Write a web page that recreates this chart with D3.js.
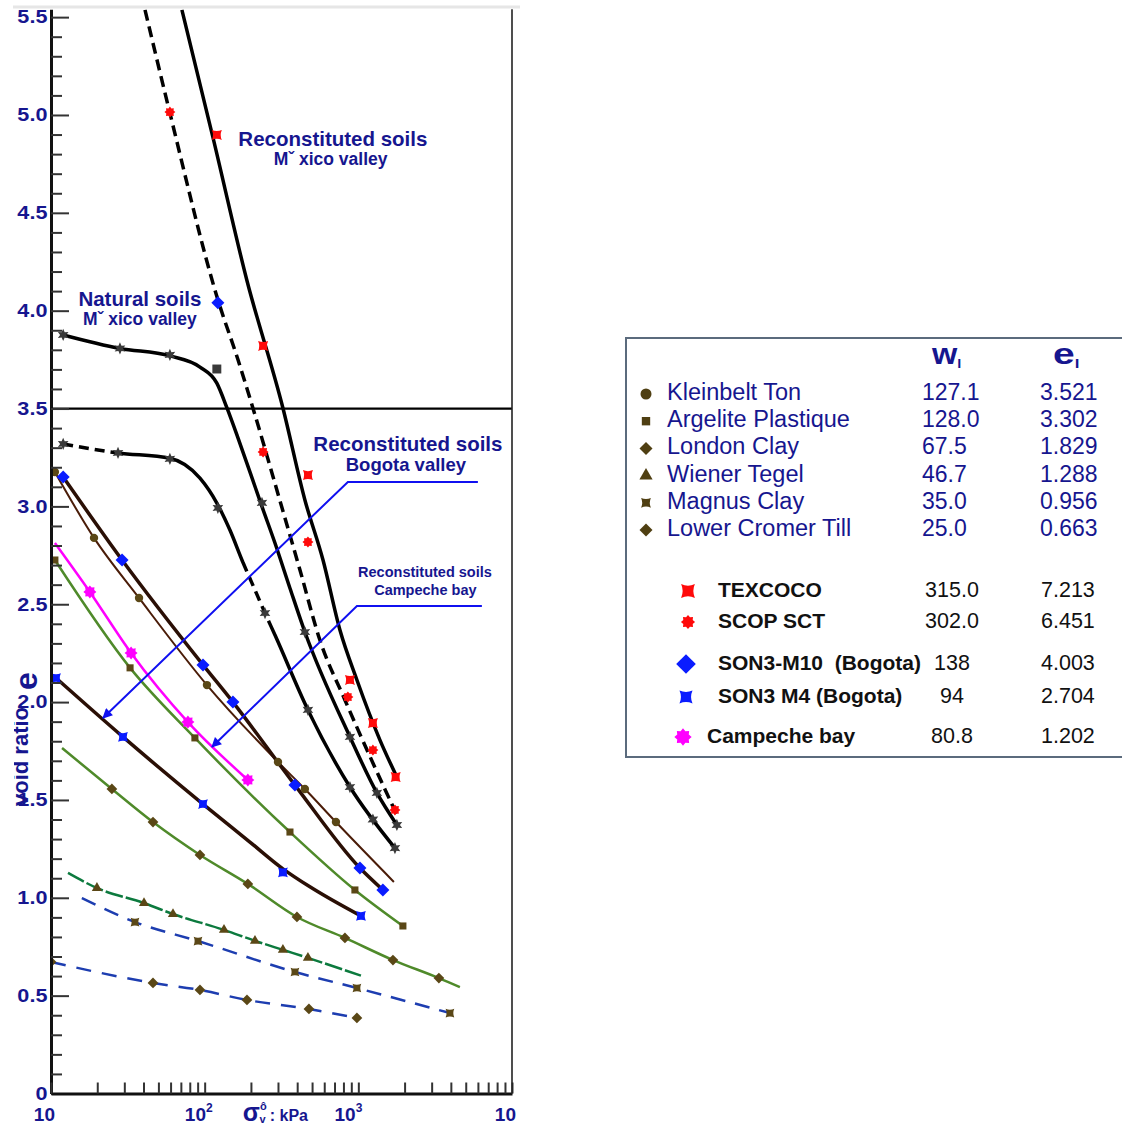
<!DOCTYPE html>
<html>
<head>
<meta charset="utf-8">
<title>Void ratio vs vertical stress</title>
<script src="https://cdn.jsdelivr.net/npm/d3@7/dist/d3.min.js"></script>
<style>
  body { margin: 0; background: #fff; }
  svg { display: block; font-family: "Liberation Sans", Arial, Helvetica, sans-serif; }
</style>
</head>
<body>
<div id="chart"></div>
<script>
// ---- data: [stress (kPa), void ratio e] ----

// Mexico valley, reconstituted
const texcocoPts = [[120, 4.898], [240, 3.820], [470, 3.160], [882, 2.113], [1244, 1.893], [1750, 1.617]];
const texcocoCurve = [[71.1, 5.537], [113, 4.888], [188, 4.157], [323, 3.503], [449, 3.033], [589, 2.726],
  [759, 2.368], [979, 2.113], [1383, 1.806], [1782, 1.617]];
const scopPts = [[59.4, 5.015], [240, 3.278], [470, 2.818], [855, 2.026], [1244, 1.755], [1731, 1.449]];
const scopCurve = [[40.9, 5.537], [59.4, 5.010], [122, 4.055], [165, 3.748], [206, 3.503], [308, 3.033],
  [417, 2.675], [562, 2.317], [818, 2.011], [1244, 1.689], [1782, 1.423]];

// Mexico valley, natural
const natUpperPts = [[12.0, 3.876], [28.1, 3.807], [59.4, 3.774], [236, 3.018], [449, 2.358],
  [882, 1.822], [1321, 1.536], [1782, 1.372]];
const natUpperSquare = [[120, 3.702]];
const natUpperCurve = [[12.0, 3.876], [28.1, 3.807], [59.4, 3.769], [93.2, 3.712], [120, 3.630], [139.7, 3.503],
  [164.7, 3.350], [197, 3.176], [236, 2.999], [286.7, 2.813], [359, 2.582], [449, 2.358], [882, 1.822],
  [1321, 1.536], [1782, 1.372]];
const natLowerPts = [[12.0, 3.319], [27.3, 3.273], [59.4, 3.243], [121.9, 2.992], [247, 2.455], [470, 1.960],
  [882, 1.566], [1244, 1.400], [1731, 1.254]];
const natLowerCurve = [[12.0, 3.319], [27.3, 3.273], [59.4, 3.246], [93.2, 3.144], [120, 3.017], [146, 2.879],
  [177, 2.716], [212.5, 2.573], [247, 2.455], [286.7, 2.343], [470, 1.960], [882, 1.566], [1731, 1.254]];
const natLowerBreaks = [27.3, 177, 286.7];   // dashed / solid / dashed / solid

// Bogota valley
const son3m10Pts = [[121.9, 4.04], [12.0, 3.150], [29.0, 2.726], [97.5, 2.190], [152.7, 2.000], [386.8, 1.576],
  [1024, 1.152], [1445, 1.040]];
const son3m10Curve = [[12.0, 3.150], [29.0, 2.726], [97.5, 2.190], [152.7, 2.000], [386.8, 1.576], [1024, 1.152], [1445, 1.040]];
const son3m4Pts = [[10.78, 2.123], [29.4, 1.822], [97.5, 1.479], [323, 1.130], [1040, 0.907]];
const son3m4Curve = [[10.78, 2.123], [29.4, 1.822], [97.5, 1.479], [197, 1.285], [323, 1.148], [484, 1.056], [1040, 0.907]];

// Campeche bay
const campechePts = [[17.9, 2.563], [33.2, 2.251], [77.8, 1.898], [191, 1.602]];
const campecheCurve = [[10.6, 2.813], [17.9, 2.563], [33.2, 2.251], [77.8, 1.898], [191, 1.602]];

// reference clays
const kleinbeltPts = [[10.6, 3.176], [19.05, 2.839], [37.4, 2.532], [103.5, 2.087], [300, 1.694], [449, 1.556], [715, 1.387]];
const kleinbeltCurve = [[10.6, 3.176], [19.05, 2.839], [37.4, 2.532], [103.5, 2.087], [300, 1.694], [449, 1.556], [715, 1.387], [1704, 1.081]];
const argelitePts = [[10.6, 2.726], [32.7, 2.175], [86.4, 1.817], [359, 1.336], [950, 1.040], [1950, 0.856]];
const londonPts = [[24.9, 1.556], [46.1, 1.387], [93.2, 1.219], [191, 1.071], [398.6, 0.902], [818, 0.795], [1680, 0.682], [3344, 0.590]];
const londonCurve = [[11.8, 1.765], [24.9, 1.556], [46.1, 1.387], [93.2, 1.219], [191, 1.071], [398.6, 0.902],
  [818, 0.795], [1680, 0.682], [3344, 0.590], [4581, 0.544]];
const wienerPts = [[19.9, 1.050], [40.3, 0.973], [62.2, 0.917], [133.6, 0.836], [212.5, 0.780], [323, 0.734], [470, 0.693]];
const wienerCurve = [[12.9, 1.127], [19.9, 1.050], [40.3, 0.973], [62.2, 0.917], [133.6, 0.836], [212.5, 0.780],
  [323, 0.734], [470, 0.693], [1040, 0.602]];
const magnusPts = [[35.2, 0.876], [90.5, 0.779], [386.8, 0.621], [979, 0.539], [3946, 0.411]];
const magnusCurve = [[15.9, 0.999], [35.2, 0.876], [90.5, 0.779], [386.8, 0.621], [979, 0.539], [3946, 0.411]];
const cromerPts = [[10, 0.672], [46.1, 0.565], [93.2, 0.529], [188.5, 0.478], [477, 0.432], [979, 0.386]];

// legend table
const refNames = ["Kleinbelt Ton", "Argelite Plastique", "London Clay", "Wiener Tegel", "Magnus Clay", "Lower Cromer Till"];
const refWl = ["127.1", "128.0", "67.5", "46.7", "35.0", "25.0"];
const refEl = ["3.521", "3.302", "1.829", "1.288", "0.956", "0.663"];
const testNames = ["TEXCOCO", "SCOP SCT", "SON3-M10  (Bogota)", "SON3 M4 (Bogota)", "Campeche bay"];
const testWl = ["315.0", "302.0", "138", "94", "80.8"];
const testEl = ["7.213", "6.451", "4.003", "2.704", "1.202"];

// axis ticks
const xLabelTicks = [10, 100, 1000, 10000];
const xLabelExp = ["", "2", "3", ""];
const yMajor = d3.range(0, 56, 5).map(i => i / 10);
const yMinor = d3.range(1, 56).filter(i => i % 5).map(i => i / 10);

// ---------------------------------------------------------------
const svgWidth = 1122, svgHeight = 1124;
const navy = "#16168f";
const brown = "#5a4716";

const svg = d3.select("#chart").append("svg")
  .attr("width", svgWidth)
  .attr("height", svgHeight);

const x = d3.scaleLog().domain([10, 10000]).range([51, 512]);
const y = d3.scaleLinear().domain([0, 5.54]).range([1093.5, 9.3]);

// marker shapes
const pinchSquare = {
  draw(ctx, size) {
    const r = Math.sqrt(size) / 2, k = r * 0.55;
    ctx.moveTo(-r, -r);
    ctx.quadraticCurveTo(0, -k, r, -r);
    ctx.quadraticCurveTo(k, 0, r, r);
    ctx.quadraticCurveTo(0, k, -r, r);
    ctx.quadraticCurveTo(-k, 0, -r, -r);
    ctx.closePath();
  }
};
const diamond = {
  draw(ctx, size) {
    const r = Math.sqrt(size) * 0.62;
    ctx.moveTo(0, -r);
    ctx.lineTo(r, 0);
    ctx.lineTo(0, r);
    ctx.lineTo(-r, 0);
    ctx.closePath();
  }
};
function starSym(n, inner) {
  return {
    draw(ctx, size) {
      const r = Math.sqrt(size) / 2;
      for (let i = 0; i < 2 * n; i++) {
        const a = Math.PI * i / n - Math.PI / 2;
        const rr = i % 2 ? r * inner : r;
        if (i === 0) ctx.moveTo(rr * Math.cos(a), rr * Math.sin(a));
        else ctx.lineTo(rr * Math.cos(a), rr * Math.sin(a));
      }
      ctx.closePath();
    }
  };
}
const cog = starSym(8, 0.72);
const asterisk = starSym(6, 0.5);

// top page rule
svg.append("line").attr("x1", 13).attr("x2", 520).attr("y1", 7).attr("y2", 7)
  .attr("stroke", "#e6e6e6").attr("stroke-width", 3);

svg.append("clipPath").attr("id", "plotclip")
  .append("rect").attr("x", 51).attr("y", y(5.54)).attr("width", 461).attr("height", y(0) - y(5.54));

const plot = svg.append("g").attr("clip-path", "url(#plotclip)");

// reference line e = 3.5
plot.append("line")
  .attr("x1", x(10)).attr("x2", x(10000)).attr("y1", y(3.5)).attr("y2", y(3.5))
  .attr("stroke", "#000").attr("stroke-width", 2.2);

const line = d3.line().x(d => x(d[0])).y(d => y(d[1])).curve(d3.curveMonotoneX);

function drawLine(pts, color, width, dash) {
  return plot.append("path")
    .datum(pts)
    .attr("d", line)
    .attr("fill", "none")
    .attr("stroke", color)
    .attr("stroke-width", width)
    .attr("stroke-dasharray", dash || null)
    .attr("stroke-linecap", "butt");
}

// one smooth path, dashed and solid in turn between the break stresses
function drawMixed(pts, breaks, color, width, dash, gap) {
  const p = drawLine(pts, color, width);
  const node = p.node(), L = node.getTotalLength();
  const at = px => {
    let lo = 0, hi = L;
    for (let i = 0; i < 40; i++) {
      const m = (lo + hi) / 2;
      if (node.getPointAtLength(m).x < px) lo = m; else hi = m;
    }
    return lo;
  };
  const cuts = [0].concat(breaks.map(b => at(x(b))), [L]);
  const arr = [];
  for (let s = 0; s < cuts.length - 1; s++) {
    const len = cuts[s + 1] - cuts[s];
    if (s % 2 === 0) {
      const n = Math.floor(len / (dash + gap));
      for (let k = 0; k < n; k++) arr.push(dash, gap);
      arr.push(len - n * (dash + gap), 0);
    } else {
      arr.push(len, 0);
    }
  }
  p.attr("stroke-dasharray", arr.join(","));
}

function drawMarkers(pts, type, size, color) {
  plot.append("g").selectAll("path")
    .data(pts)
    .enter()
    .append("path")
    .attr("transform", d => `translate(${x(d[0])},${y(d[1])})`)
    .attr("d", d3.symbol().type(type).size(size))
    .attr("fill", color);
}

// reference clays
drawLine(cromerPts, "#1d3db0", 2.5, "15,11");
drawLine(magnusCurve, "#1d3db0", 2.5, "15,10");
drawLine(wienerCurve, "#0c7a3e", 2.5, "18,3");
drawLine(londonCurve, "#4f8a2a", 2.5);
drawLine(argelitePts, "#4f8a2a", 2.5);
drawLine(kleinbeltCurve, "#4a1c08", 2);

// Bogota / Campeche
drawLine(son3m4Curve, "#2a0f05", 3.5);
drawLine(son3m10Curve, "#2a0f05", 3.5);
drawLine(campecheCurve, "#ff00ff", 2.5);

// Mexico valley
drawLine(texcocoCurve, "#000", 3.5);
drawLine(scopCurve, "#000", 3.5, "11,6");
drawLine(natUpperCurve, "#000", 3.5);
drawMixed(natLowerCurve, natLowerBreaks, "#000", 3.5, 10, 6);

drawMarkers(cromerPts, diamond, 75, brown);
drawMarkers(magnusPts, pinchSquare, 75, brown);
drawMarkers(wienerPts, d3.symbolTriangle, 45, brown);
drawMarkers(londonPts, diamond, 75, brown);
drawMarkers(argelitePts, d3.symbolSquare, 50, brown);
drawMarkers(kleinbeltPts, d3.symbolCircle, 55, brown);
drawMarkers(son3m4Pts, pinchSquare, 95, "#0a1cff");
drawMarkers(son3m10Pts, diamond, 110, "#0a1cff");
drawMarkers(campechePts, cog, 170, "#ff00ff");
drawMarkers(natUpperPts, asterisk, 150, "#3a3a3a");
drawMarkers(natUpperSquare, d3.symbolSquare, 80, "#3a3a3a");
drawMarkers(natLowerPts, asterisk, 150, "#3a3a3a");
drawMarkers(texcocoPts, pinchSquare, 100, "#ff0a0a");
drawMarkers(scopPts, cog, 120, "#ff0a0a");

// ---- annotations ----
const defs = svg.append("defs");
defs.append("marker")
  .attr("id", "arrow")
  .attr("viewBox", "0 0 10 10")
  .attr("refX", 9).attr("refY", 5)
  .attr("markerWidth", 6).attr("markerHeight", 5)
  .attr("markerUnits", "strokeWidth")
  .attr("orient", "auto")
  .append("path").attr("d", "M0,0 L10,5 L0,10 Z").attr("fill", "#1010f0");

const arrows = [
  [[5998, 3.125], [855, 3.125], [21.8, 1.919]],
  [[6368, 2.491], [979, 2.491], [111.6, 1.771]]
];
svg.append("g").selectAll("path")
  .data(arrows)
  .enter()
  .append("path")
  .attr("d", d3.line().x(d => x(d[0])).y(d => y(d[1])))
  .attr("fill", "none")
  .attr("stroke", "#1010f0")
  .attr("stroke-width", 2)
  .attr("marker-end", "url(#arrow)");

function label(xv, yv, txt, size, anchor) {
  svg.append("text")
    .attr("x", x(xv)).attr("y", y(yv))
    .attr("text-anchor", anchor || "middle")
    .attr("font-size", size)
    .attr("font-weight", "bold")
    .attr("fill", navy)
    .text(txt);
}
label(683, 4.842, "Reconstituted soils", 20.5);
label(660, 4.745, "Mˇ xico valley", 17.5);
label(37.9, 4.024, "Natural soils", 20.5);
label(37.9, 3.927, "Mˇ xico valley", 17.5);
label(2102, 3.283, "Reconstituted soils", 20.5);
label(2040, 3.181, "Bogota valley", 18.5);
label(2713, 2.639, "Reconstituted soils", 14.5);
label(2730, 2.547, "Campeche bay", 14.5);

// ---- axes ----
const yAxis = svg.append("g").attr("transform", `translate(${x(10)},0)`)
  .call(d3.axisLeft(y).tickValues(yMajor).tickSizeInner(-18).tickSizeOuter(0).tickPadding(3)
    .tickFormat(d => d === 0 ? "0" : d3.format(".1f")(d)));
svg.append("g").attr("transform", `translate(${x(10)},0)`)
  .call(d3.axisLeft(y).tickValues(yMinor).tickSizeInner(-11).tickSizeOuter(0).tickFormat(""))
  .call(g => g.select(".domain").remove())
  .call(g => g.selectAll(".tick line").attr("stroke", "#333").attr("stroke-width", 2));
yAxis.select(".domain").attr("stroke", "#111").attr("stroke-width", 3);
yAxis.selectAll(".tick line").attr("stroke", "#333").attr("stroke-width", 2);
yAxis.selectAll(".tick text")
  .attr("font-size", 18).attr("font-weight", "bold").attr("fill", navy)
  .attr("font-family", "Liberation Sans, Arial, sans-serif")
  .attr("transform", "scale(1.2,1)");

const xMinor = [];
[10, 100, 1000].forEach(dec => d3.range(2, 10).forEach(m => xMinor.push(dec * m)));
const xAxis = svg.append("g").attr("transform", `translate(0,${y(0)})`)
  .call(d3.axisBottom(x).tickValues(xLabelTicks.concat(xMinor)).tickSizeInner(-11).tickSizeOuter(0).tickFormat(""));
xAxis.select(".domain").attr("stroke", "#111").attr("stroke-width", 3);
xAxis.selectAll(".tick line").attr("stroke", "#333").attr("stroke-width", 2);

// right frame
svg.append("line").attr("x1", x(10000)).attr("x2", x(10000)).attr("y1", y(5.54)).attr("y2", y(0))
  .attr("stroke", "#222").attr("stroke-width", 1.6);

const xl = svg.append("g").selectAll("text")
  .data(xLabelTicks)
  .enter()
  .append("text")
  .attr("x", (d, i) => x(d) + (i === 1 ? 8 : 4))
  .attr("y", y(0) + 27)
  .attr("text-anchor", "end")
  .attr("font-size", 19).attr("font-weight", "bold").attr("fill", navy);
xl.append("tspan").text("10");
xl.append("tspan").attr("dy", -9).attr("font-size", 12).text((d, i) => xLabelExp[i]);

// x title  sigma'v : kPa, one text element
const xt = svg.append("text").attr("x", x(177)).attr("y", y(0) + 27)
  .attr("fill", navy).attr("font-weight", "bold").attr("font-size", 25);
xt.append("tspan").text("σ");
xt.append("tspan").attr("dy", -11).attr("font-size", 11).text("ô");
xt.append("tspan").attr("dx", -7).attr("dy", 13).attr("font-size", 11).text("v");
xt.append("tspan").attr("dx", 4).attr("dy", -2).attr("font-size", 16).text(": kPa");

// y title, partly clipped at the left edge as in the source
svg.append("clipPath").attr("id", "ytclip")
  .append("rect").attr("x", 14).attr("y", 600).attr("width", 40).attr("height", 260);
const yt = svg.append("g").attr("clip-path", "url(#ytclip)").attr("fill", navy).attr("font-weight", "bold");
yt.append("text").attr("transform", "translate(28,806) rotate(-90)")
  .attr("font-size", 22).text("void ratio");
yt.append("text").attr("transform", "translate(37,690) rotate(-90)")
  .attr("font-size", 32).text("e");

// ---- legend table ----
const lg = svg.append("g");
lg.append("rect").attr("x", 626).attr("y", 338).attr("width", 520).attr("height", 419)
  .attr("fill", "#fff").attr("stroke", "#5b6b7d").attr("stroke-width", 2);

const hdr = lg.append("g").attr("fill", navy).attr("font-weight", "bold");
const hw = hdr.append("text").attr("transform", "translate(932,364) scale(1.12,1)").attr("font-size", 29);
hw.append("tspan").text("w");
hw.append("tspan").attr("dy", 4).attr("font-size", 13).text("l");
const he = hdr.append("text").attr("transform", "translate(1053,364) scale(1.3,1)").attr("font-size", 30);
he.append("tspan").text("e");
he.append("tspan").attr("dy", 4).attr("font-size", 13).text("l");

const refSyms = [d3.symbolCircle, d3.symbolSquare, diamond, d3.symbolTriangle, pinchSquare, diamond];
const refSize = [95, 70, 110, 75, 95, 110];
const refRows = lg.append("g").selectAll("g")
  .data(refNames)
  .enter()
  .append("g")
  .attr("transform", (d, i) => `translate(0,${400 + i * 27.2})`);
refRows.append("path")
  .attr("transform", "translate(646,-6)")
  .attr("d", (d, i) => d3.symbol().type(refSyms[i]).size(refSize[i])())
  .attr("fill", "#4f3f12");
refRows.append("text").attr("x", 667).attr("font-size", 23.5).attr("fill", navy).text(d => d);
refRows.append("text").attr("x", 922).attr("font-size", 23).attr("fill", navy).text((d, i) => refWl[i]);
refRows.append("text").attr("x", 1040).attr("font-size", 23).attr("fill", navy).text((d, i) => refEl[i]);

const testY = [597, 628, 670, 703, 743];
const testMx = [688, 688, 686, 686, 683];
const testTx = [718, 718, 718, 718, 707];
const testSyms = [pinchSquare, cog, diamond, pinchSquare, cog];
const testSize = [190, 200, 250, 170, 300];
const testCol = ["#ff0a0a", "#ff0a0a", "#0a1cff", "#0a1cff", "#ff00ff"];
const testRows = lg.append("g").selectAll("g")
  .data(testNames)
  .enter()
  .append("g")
  .attr("transform", (d, i) => `translate(0,${testY[i]})`);
testRows.append("path")
  .attr("transform", (d, i) => `translate(${testMx[i]},-6)`)
  .attr("d", (d, i) => d3.symbol().type(testSyms[i]).size(testSize[i])())
  .attr("fill", (d, i) => testCol[i]);
testRows.append("text").attr("x", (d, i) => testTx[i]).attr("font-size", 21).attr("font-weight", "bold")
  .attr("fill", "#111").style("white-space", "pre").text(d => d);
testRows.append("text").attr("x", 952).attr("text-anchor", "middle").attr("font-size", 21.5)
  .attr("fill", "#111").text((d, i) => testWl[i]);
testRows.append("text").attr("x", 1041).attr("font-size", 21.5)
  .attr("fill", "#111").text((d, i) => testEl[i]);
</script>
</body>
</html>
